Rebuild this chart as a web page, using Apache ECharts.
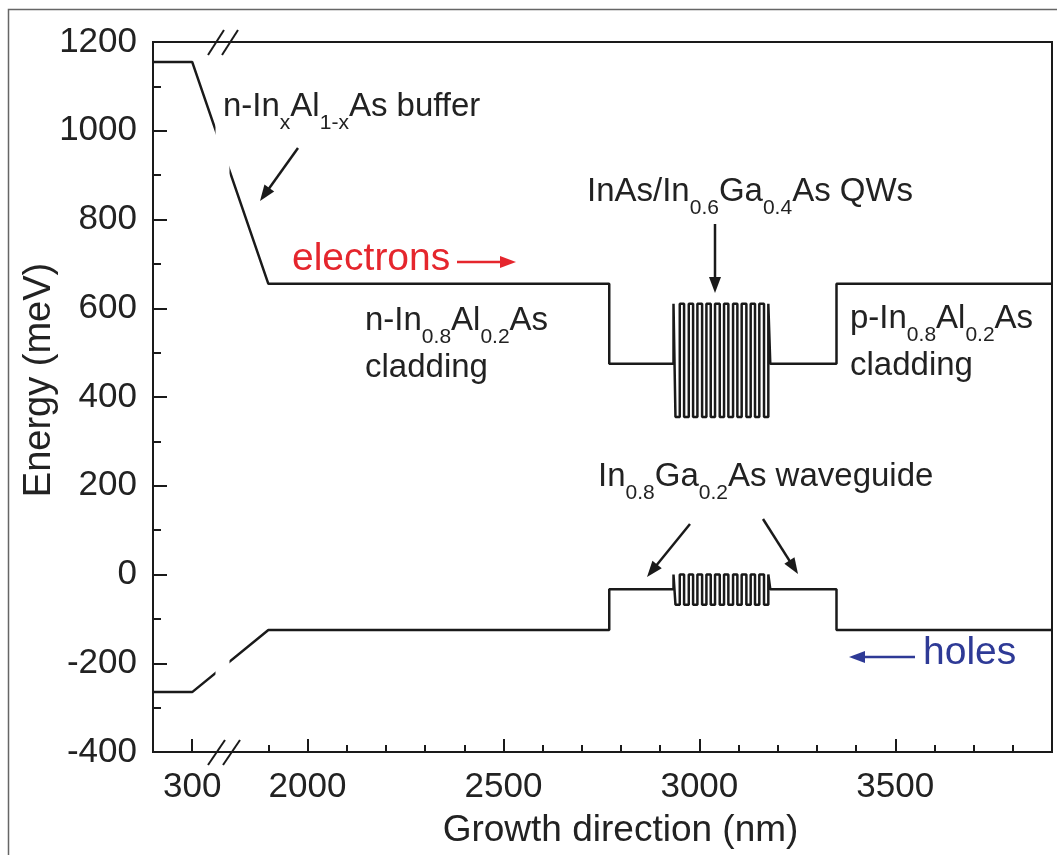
<!DOCTYPE html>
<html>
<head>
<meta charset="utf-8">
<title>Band diagram</title>
<script src="https://cdn.jsdelivr.net/npm/echarts@6.0.0/dist/echarts.min.js"></script>
<style>
html, body { margin: 0; padding: 0; background: #fff; }
#main { width: 1057px; height: 855px; }
</style>
</head>
<body>
<div id="main"></div>
<script>
// growth position (nm) / band energy (meV)
var cbLeftX = [200, 300, 1900, 2770, 2770, 2934];
var cbLeftY = [1155, 1155, 655, 655, 475, 475];
var cbRightX = [3181, 3350, 3350, 3900];
var cbRightY = [475, 475, 655, 655];
var vbLeftX = [200, 300, 1900, 2770, 2770, 2934];
var vbLeftY = [-265, -265, -125, -125, -33, -33];
var vbRightX = [3181, 3350, 3350, 3900];
var vbRightY = [-33, -33, -125, -125];
// QW layer interfaces (nm)
var qwEdges = [2934, 2939, 2950, 2961, 2973, 2984, 2995, 3007, 3018, 3029, 3040, 3052,
               3063, 3074, 3086, 3097, 3108, 3120, 3131, 3142, 3153, 3165, 3176, 3181];
// [waveguide level, barrier level, well level]
var cbQwLevels = [475, 610, 355];
var vbQwLevels = [-33, 0, -68];
var xMajorTicks = [300, 2000, 2500, 3000, 3500];
var xMinorTicks = [1900, 2100, 2200, 2300, 2400, 2600, 2700, 2800, 2900, 3100, 3200, 3300, 3400, 3600, 3700, 3800];

var F = 'Liberation Sans, Arial, Helvetica, sans-serif';
var INK = '#1a1a1a';
var RED = '#e5262d';
var BLUE = '#2e3a96';

function pairs(xs, ys) {
    return xs.map(function (x, i) { return [x, ys[i]]; });
}
// serpentine path through the QW interfaces
function comb(edges, lv) {
    var pts = [[edges[0], lv[0]], [edges[0], lv[1]]];
    var cur = lv[1];
    for (var i = 1; i < edges.length - 1; i++) {
        pts.push([edges[i], cur]);
        cur = cur === lv[1] ? lv[2] : lv[1];
        pts.push([edges[i], cur]);
    }
    var last = edges[edges.length - 1];
    pts.push([last, cur]);
    pts.push([last, lv[0]]);
    return pts;
}

var cbData = pairs(cbLeftX, cbLeftY).concat(comb(qwEdges, cbQwLevels), pairs(cbRightX, cbRightY));
var vbData = pairs(vbLeftX, vbLeftY).concat(comb(qwEdges, vbQwLevels), pairs(vbRightX, vbRightY));

// text with baseline at y
function label(x, y, text, color, size) {
    size = size || 33;
    var c = color || '#222';
    var r = {
        m: { fontSize: size, lineHeight: size, fontFamily: F, verticalAlign: 'top', fill: c },
        s: { fontSize: 21, lineHeight: 21, fontFamily: F, verticalAlign: 'top', padding: [23, 0, 0, 0], fill: c }
    };
    return { type: 'text', x: x, y: y - Math.round(size * 0.85), z: 500, style: { text: text, rich: r, align: 'left', verticalAlign: 'top' } };
}
function arrow(x1, y1, x2, y2, color) {
    var dx = x2 - x1, dy = y2 - y1, len = Math.sqrt(dx * dx + dy * dy);
    var ux = dx / len, uy = dy / len, L = 16, W = 6;
    var bx = x2 - ux * L, by = y2 - uy * L;
    return { type: 'group', z: 500, children: [
        { type: 'line', z: 500, shape: { x1: x1, y1: y1, x2: x2 - ux * L * 0.7, y2: y2 - uy * L * 0.7 }, style: { stroke: color, lineWidth: 2.5 } },
        { type: 'polygon', z: 500, shape: { points: [[x2, y2], [bx - uy * W, by + ux * W], [bx + uy * W, by - ux * W]] }, style: { fill: color } }
    ] };
}
function seg(x1, y1, x2, y2) {
    return { type: 'line', z: 500, shape: { x1: x1, y1: y1, x2: x2, y2: y2 }, style: { stroke: INK, lineWidth: 2 } };
}
function plain(v) { return String(v); }

var myChart = echarts.init(document.getElementById('main'));
var option = {
    animation: false,
    backgroundColor: '#fff',
    grid: { left: 153, right: 5, top: 42, bottom: 103, outerBoundsMode: 'none', containLabel: false,
            show: true, borderColor: INK, borderWidth: 2 },
    xAxis: [{
        type: 'value', position: 'bottom', min: 200, max: 3900,
        breaks: [{ start: 360, end: 1800, gap: '1.5%' }],
        breakArea: { show: true, itemStyle: { color: '#fff', borderWidth: 0, opacity: 1 }, zigzagAmplitude: 0, expandOnClick: false },
        name: 'Growth direction (nm)', nameLocation: 'middle', nameGap: 60,
        nameTextStyle: { fontSize: 37, color: '#222', fontFamily: F, padding: [0, 0, 0, 36] },
        axisLine: { show: true, onZero: false, lineStyle: { color: INK, width: 2 } },
        axisTick: { show: true, inside: true, length: 13, customValues: xMajorTicks, lineStyle: { color: INK, width: 2 } },
        axisLabel: { customValues: xMajorTicks, formatter: plain, fontSize: 35, color: '#222', margin: 18, fontFamily: F },
        splitLine: { show: false }
    }, {
        type: 'value', position: 'bottom', min: 200, max: 3900,
        breaks: [{ start: 360, end: 1800, gap: '1.5%' }],
        breakArea: { show: false },
        axisLine: { show: false, onZero: false },
        axisTick: { show: true, inside: true, length: 7, customValues: xMinorTicks, lineStyle: { color: INK, width: 2 } },
        axisLabel: { show: false },
        splitLine: { show: false }
    }],
    yAxis: {
        type: 'value', min: -400, max: 1200, interval: 200,
        name: 'Energy (meV)', nameLocation: 'middle', nameGap: 94, nameMoveOverlap: false,
        nameTextStyle: { fontSize: 38, color: '#222', fontFamily: F, padding: [0, 0, 0, 34] },
        axisLine: { show: true, onZero: false, lineStyle: { color: INK, width: 2 } },
        axisTick: { show: true, inside: true, length: 14, lineStyle: { color: INK, width: 2 } },
        minorTick: { show: true, splitNumber: 2, length: 8, lineStyle: { color: INK, width: 2 } },
        axisLabel: { formatter: plain, fontSize: 35, color: '#222', margin: 16, fontFamily: F },
        splitLine: { show: false }
    },
    series: [{
        name: 'conduction', type: 'line', data: cbData, showSymbol: false,
        lineStyle: { color: INK, width: 2.5 }
    }, {
        name: 'valence', type: 'line', data: vbData, showSymbol: false,
        lineStyle: { color: INK, width: 2.5 }
    }],
    graphic: [
        { type: 'rect', shape: { x: 8.5, y: 9.5, width: 1200, height: 1000 }, style: { fill: 'none', stroke: '#666', lineWidth: 1.5 } },
        // axis lines across the break, and break marks
        seg(205, 42, 245, 42), seg(205, 752, 245, 752),
        seg(208, 55, 224, 30), seg(222, 55, 238, 30),
        seg(208, 765, 225, 740), seg(223, 765, 240, 740),
        label(223, 118, '{m|n-In}{s|x}{m|Al}{s|1-x}{m|As buffer}'),
        label(292, 273, '{m|electrons}', RED, 39),
        label(587, 203, '{m|InAs/In}{s|0.6}{m|Ga}{s|0.4}{m|As QWs}'),
        label(365, 332, '{m|n-In}{s|0.8}{m|Al}{s|0.2}{m|As}'),
        label(365, 379, '{m|cladding}'),
        label(850, 330, '{m|p-In}{s|0.8}{m|Al}{s|0.2}{m|As}'),
        label(850, 377, '{m|cladding}'),
        label(598, 488, '{m|In}{s|0.8}{m|Ga}{s|0.2}{m|As waveguide}'),
        label(923, 667, '{m|holes}', BLUE, 39),
        arrow(298, 148, 260, 201, INK),
        arrow(457, 262, 516, 262, RED),
        arrow(715, 224, 715, 293, INK),
        arrow(690, 524, 647, 577, INK),
        arrow(763, 519, 798, 574, INK),
        arrow(915, 657, 849, 657, BLUE)
    ]
};
myChart.setOption(option);
window.onresize = myChart.resize;
</script>
</body>
</html>
